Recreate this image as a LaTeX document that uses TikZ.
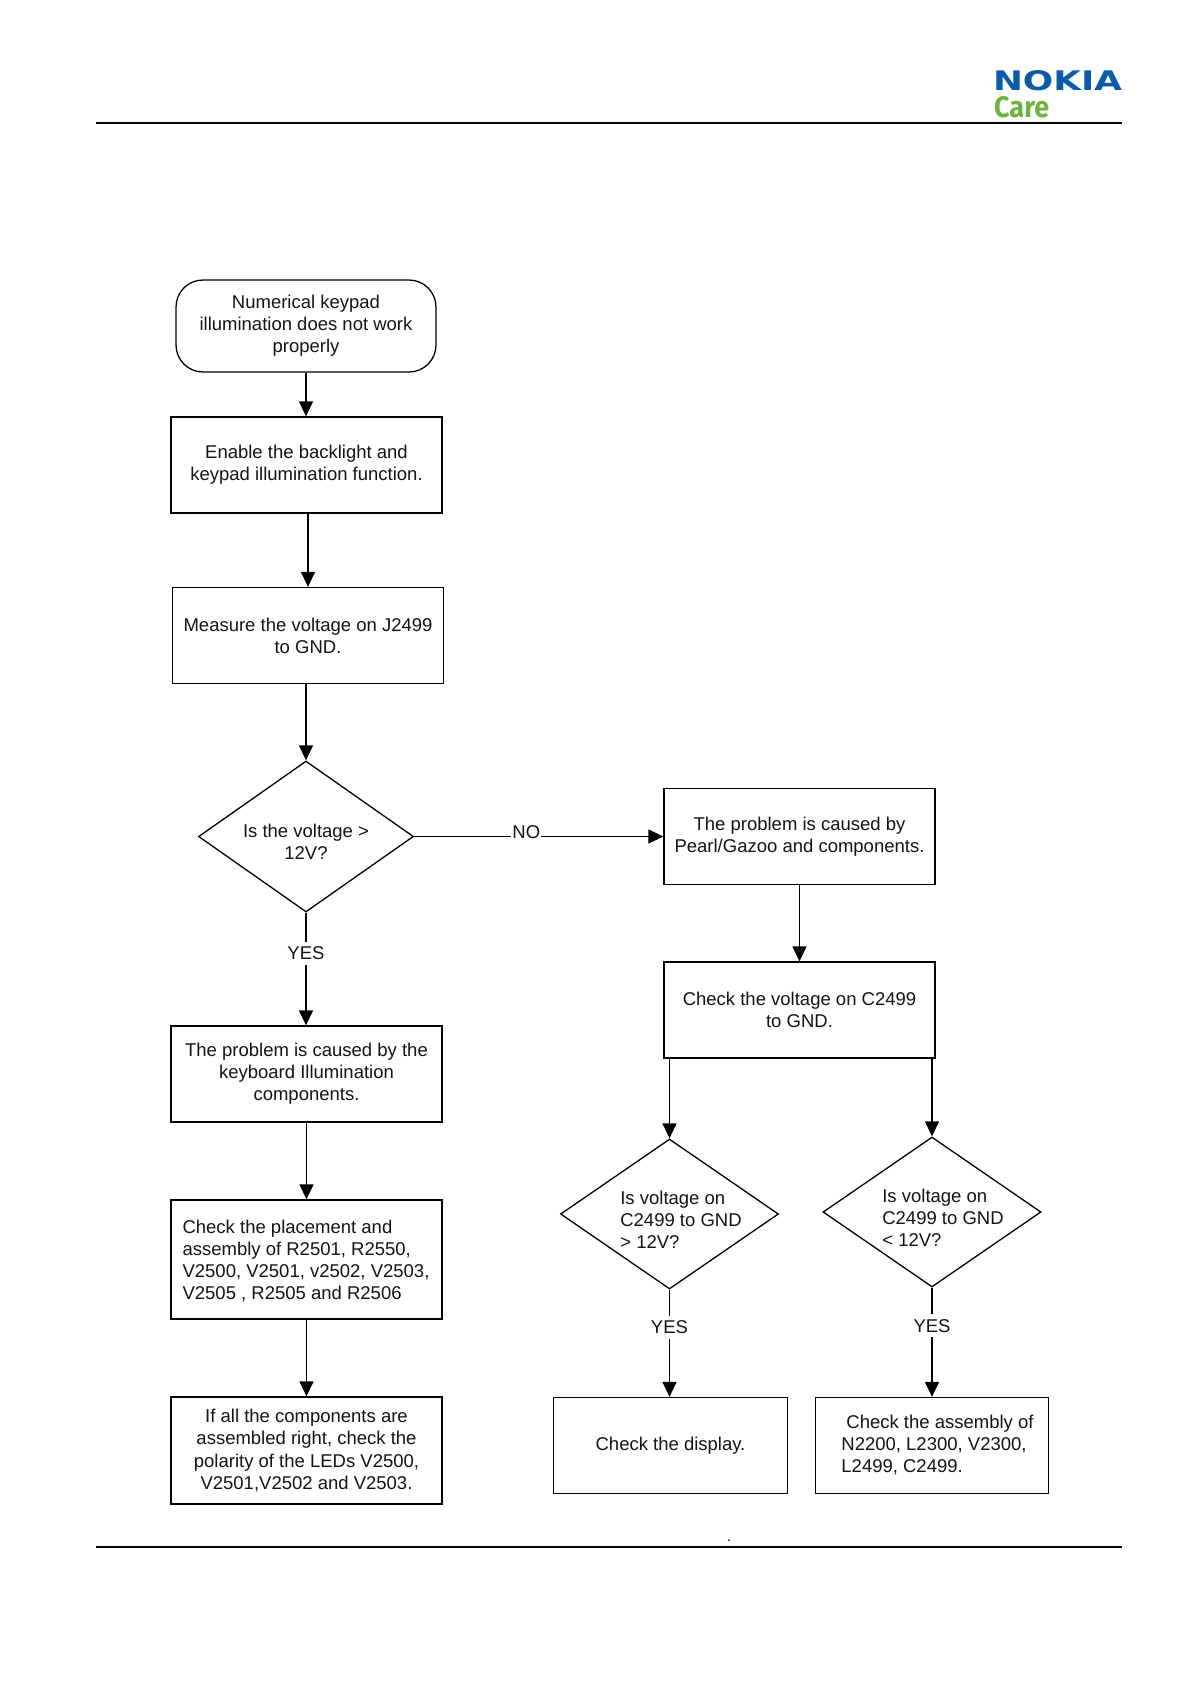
\documentclass[tikz,border=0pt]{standalone}
\usepackage{fontspec}
\setmainfont{Liberation Sans}
\newfontfamily\carefont{Fira Sans}
\newfontfamily\nokiafont{DejaVu Sans}
\usetikzlibrary{shapes.geometric,arrows.meta}
\definecolor{nokiablue}{HTML}{0A5CA8}
\definecolor{caregreen}{HTML}{6DB33F}
\tikzset{
  x=1pt,y=-1pt,
  flowtext/.style={font=\fontsize{18.5}{22.2}\selectfont,align=center,text=black!92,inner sep=0pt},
  lefttext/.style={flowtext,align=left},
  boxn/.style={draw=black,line width=1.3pt,rectangle,inner sep=0pt,flowtext},
  termn/.style={boxn,rounded corners=27pt},
  dec/.style={draw=black,line width=1.3pt,diamond,inner sep=0pt,shape aspect=1.27},
  flow/.style={draw=black,line width=1.3pt,-{Triangle[length=15pt,width=14pt]}},
  branch/.style={flowtext,fill=white,inner xsep=1pt,inner ysep=5pt},
  rulel/.style={draw=black,line width=2pt},
}
\begin{document}
\begin{tikzpicture}
\useasboundingbox[fill=white] (0,0) rectangle (1191,1684);
% header and footer
\coordinate (hl) at (96,123); \coordinate (hr) at (1122,123);
\coordinate (fl) at (96,1547); \coordinate (fr) at (1122,1547);
\draw[rulel] (hl) -- (hr);
\draw[rulel] (fl) -- (fr);
\node[inner sep=0pt,text=nokiablue] (nokia) at (1057.5,81) {\resizebox{129pt}{20pt}{\nokiafont\bfseries NOKIA}};
\node[inner sep=0pt,text=caregreen,anchor=west] (care) at (994,107.5) {\resizebox{55pt}{21pt}{\carefont\bfseries Care}};
\node[inner sep=0pt,font=\bfseries\fontsize{10}{10}\selectfont] (dot) at (729,1541) {.};
% left column
\node[termn,minimum width=260pt,minimum height=92pt] (start) at (306,326) {Numerical keypad\\illumination does not work\\properly};
\node[boxn,minimum width=271pt,minimum height=96pt] (enable) at (306.5,465) {Enable the backlight and\\keypad illumination function.};
\node[boxn,minimum width=271pt,minimum height=96pt] (measure) at (308,635.5) {Measure the voltage on J2499\\to GND.};
\node[dec,minimum width=215pt,minimum height=151pt] (q1) at (306,836.5) {};
\node[flowtext] (q1t) at (306,842) {Is the voltage >\\12V?};
\node[boxn,minimum width=271pt,minimum height=96pt] (cause) at (306.5,1074) {The problem is caused by the\\keyboard Illumination\\components.};
\node[boxn,minimum width=271pt,minimum height=119pt] (placement) at (306.5,1259.5) {};
\node[lefttext] (placementt) at (306,1261) {Check the placement and\\assembly of R2501, R2550,\\V2500, V2501, v2502, V2503,\\V2505 , R2505 and R2506};
\node[boxn,minimum width=271pt,minimum height=107pt] (polarity) at (306.5,1450.5) {If all the components are\\assembled right, check the\\polarity of the LEDs V2500,\\V2501,V2502 and V2503.};
% right column
\node[boxn,minimum width=271pt,minimum height=96pt] (pearl) at (799.5,836.5) {The problem is caused by\\Pearl/Gazoo and components.};
\node[boxn,minimum width=271pt,minimum height=96pt] (check) at (799.5,1010) {Check the voltage on C2499\\to GND.};
\node[dec,minimum width=218pt,minimum height=150pt] (q2) at (669.5,1214) {};
\node[lefttext] (q2t) at (681,1219.5) {Is voltage on\\C2499 to GND\\> 12V?};
\node[dec,minimum width=218pt,minimum height=150pt] (q3) at (932,1212) {};
\node[lefttext] (q3t) at (943,1217.5) {Is voltage on\\C2499 to GND\\< 12V?};
\node[boxn,minimum width=234pt,minimum height=96pt] (display) at (670.5,1445.5) {Check the display.};
\node[boxn,minimum width=233pt,minimum height=96pt] (assembly) at (932,1445.5) {};
\node[lefttext] (assemblyt) at (937.5,1445) {\hspace*{5pt}Check the assembly of\\N2200, L2300, V2300,\\L2499, C2499.};
% connectors
\draw[flow] (start.south) -- (start.south |- enable.north);
\draw[flow] (measure.north |- enable.south) -- (measure.north);
\draw[flow] (q1.north |- measure.south) -- (q1.north);
\draw[flow] (q1.south) -- (q1.south |- cause.north) node[pos=0.36,branch] (yes1) {YES};
\draw[flow] (cause.south) -- (cause.south |- placement.north);
\draw[flow] (placement.south) -- (placement.south |- polarity.north);
\draw[flow] (q1.east) -- (q1.east -| pearl.west) node[pos=0.45,branch,inner ysep=0pt,yshift=4.5pt] (no1) {NO};
\draw[flow] (pearl.south) -- (check.north);
\draw[flow] (q2.north |- check.south) -- (q2.north);
\draw[flow] (q3.north |- check.south) -- (q3.north);
\draw[flow] (q2.south) -- (q2.south |- display.north) node[pos=0.35,branch] (yes2) {YES};
\draw[flow] (q3.south) -- (q3.south |- assembly.north) node[pos=0.35,branch] (yes3) {YES};
\end{tikzpicture}
\end{document}
